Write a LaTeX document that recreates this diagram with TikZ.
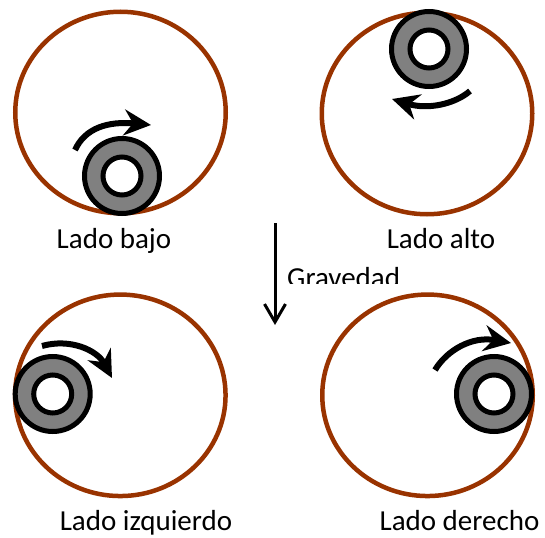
\documentclass[tikz,border=0pt]{standalone}
\usepackage{fontspec}
\setmainfont{Carlito}
\usetikzlibrary{arrows.meta,shapes.geometric}
\definecolor{DrumBrown}{RGB}{153,51,0}
\definecolor{RingGray}{RGB}{128,128,128}
\tikzset{
  drum/.style={ellipse,draw=DrumBrown,line width=4.5pt,minimum width=210.5pt,
    minimum height=201.5pt,inner sep=0pt},
  ringout/.style={circle,draw=black,fill=RingGray,line width=5pt,
    minimum size=75pt,inner sep=0pt},
  ringin/.style={circle,draw=black,fill=white,line width=5pt,
    minimum size=38pt,inner sep=0pt},
  spin/.style={-{Stealth[length=27pt,width=26pt,inset=9pt]},line width=6pt,draw=black},
  gravflow/.style={-{Straight Barb[length=18pt,width=21pt]},line width=3pt,draw=black},
  lbl/.style={anchor=base,inner sep=0pt,font=\fontsize{29}{34}\selectfont}
}

\begin{document}
\begin{tikzpicture}[x=1pt,y=-1pt]
  \useasboundingbox (0,0) rectangle (545,537);
  \node[drum] (bajo) at (120.5,112.5) {};
  \node[drum] (alto) at (427,113.5) {};
  \node[drum] (izq) at (120.3,395.3) {};
  \node[drum] (der) at (427.5,395.3) {};
  \node[ringout] (r1) at (122,176) {};
  \node[ringin] (c1) at (r1) {};
  \node[ringout] (r2) at (429,49) {};
  \node[ringin] (c2) at (r2) {};
  \node[ringout] (r3) at (52.7,394) {};
  \node[ringin] (c3) at (r3) {};
  \node[ringout] (r4) at (494,394) {};
  \node[ringin] (c4) at (r4) {};
  \coordinate (a1s) at (75,150);
  \coordinate (a1e) at (151,125);
  \coordinate (a2s) at (470,91);
  \coordinate (a2e) at (392,99);
  \coordinate (a3s) at (42,346);
  \coordinate (a3e) at (112,378);
  \coordinate (a4s) at (435,370);
  \coordinate (a4e) at (511,343);
  \draw[spin] (a1s) .. controls (85,128) and (108,121) .. (a1e);
  \draw[spin] (a2s) .. controls (455,104) and (428,110) .. (a2e);
  \draw[spin] (a3s) .. controls (70,338) and (97,350) .. (a3e);
  \draw[spin] (a4s) .. controls (447,350) and (472,336) .. (a4e);
  \node[lbl] (lbajo) at (114,248) {Lado bajo};
  \node[lbl] (lalto) at (441,248) {Lado alto};
  \node[lbl] (lizq) at (146,530) {Lado izquierdo};
  \node[lbl] (lder) at (459.5,530) {Lado derecho};
  \coordinate (gtop) at (275,223);
  \coordinate (gbot) at (275,325);
  \draw[gravflow] (gtop) -- (gbot);
  \begin{scope}
    \clip (280,255) rectangle (420,283.5);
    \node[lbl,anchor=base west] (grav) at (287,287) {Gravedad};
  \end{scope}
\end{tikzpicture}
\end{document}
